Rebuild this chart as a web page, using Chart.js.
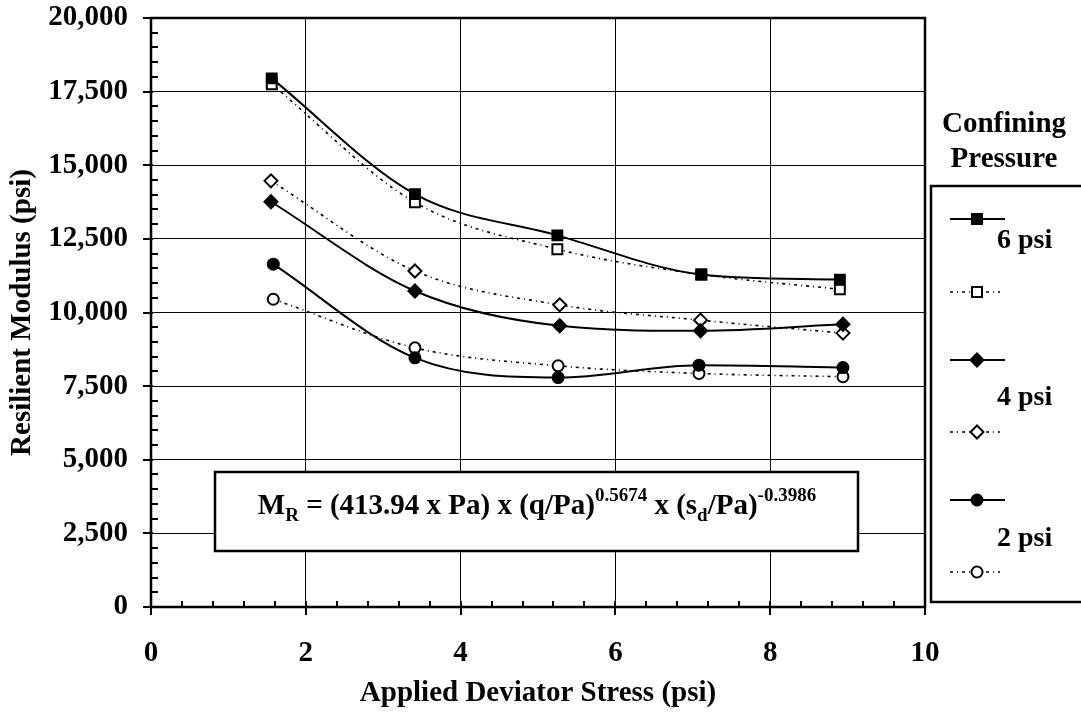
<!DOCTYPE html>
<html>
<head>
<meta charset="utf-8">
<script src="https://cdn.jsdelivr.net/npm/chart.js@4.4.1/dist/chart.umd.min.js"></script>
<style>
    html, body { margin: 0; padding: 0; background: #fff; }
    #wrap { width: 1081px; height: 719px; position: relative; }
</style>
</head>
<body>
<div id="wrap"><canvas id="mr-chart"></canvas></div>
<script>
// Tick values
var xTickValues = [0, 2, 4, 6, 8, 10];
var yTickValues = [0, 2500, 5000, 7500, 10000, 12500, 15000, 17500, 20000];

// Applied deviator stress (psi) for each confining pressure
var stress6 = [1.56, 3.41, 5.25, 7.11, 8.90];
var stress4 = [1.55, 3.41, 5.28, 7.10, 8.94];
var stress2 = [1.58, 3.41, 5.26, 7.08, 8.94];

// Resilient modulus (psi): solid and open markers
var mr6Solid = [17950, 14020, 12620, 11290, 11110];
var mr6Open  = [17750, 13740, 12150, 11290, 10790];
var mr4Solid = [13760, 10730, 9550, 9380, 9600];
var mr4Open  = [14470, 11410, 10260, 9740, 9300];
var mr2Solid = [11640, 8460, 7790, 8210, 8130];
var mr2Open  = [10450, 8800, 8190, 7930, 7820];

var pressureLabels = ['6 psi', '4 psi', '2 psi'];

var FONT = '"Liberation Serif", "Times New Roman", serif';
var DOTTED = [3, 4, 1, 4];

function toPoints(xs, ys) {
    var pts = [];
    for (var i = 0; i < xs.length; i++) {
        pts.push({ x: xs[i], y: ys[i] });
    }
    return pts;
}

function makeSet(label, xs, ys, style, filled) {
    return {
        label: label,
        data: toPoints(xs, ys),
        showLine: true,
        borderColor: '#000',
        borderWidth: filled ? 2 : 1.6,
        borderDash: filled ? [] : DOTTED,
        cubicInterpolationMode: 'monotone',
        pointStyle: style,
        pointRadius: style === 'rect' ? 7 : (style === 'rectRot' ? 6.5 : 5.5),
        pointBackgroundColor: filled ? '#000' : '#fff',
        pointBorderColor: '#000',
        pointBorderWidth: 2
    };
}

// Legend rows
var legendRows = [
    { style: 'rect', filled: true, y: 219 },
    { style: 'rect', filled: false, y: 292 },
    { style: 'rectRot', filled: true, y: 360 },
    { style: 'rectRot', filled: false, y: 432 },
    { style: 'circle', filled: true, y: 500 },
    { style: 'circle', filled: false, y: 572 }
];
var legendTextY = [241, 398, 539];

function drawMarker(ctx, style, filled, x, y) {
    ctx.save();
    ctx.setLineDash([]);
    ctx.lineWidth = 2;
    ctx.strokeStyle = '#000';
    ctx.fillStyle = filled ? '#000' : '#fff';
    ctx.beginPath();
    if (style === 'rect') {
        ctx.rect(x - 5, y - 5, 10, 10);
    } else if (style === 'rectRot') {
        ctx.moveTo(x, y - 6.5);
        ctx.lineTo(x + 6.5, y);
        ctx.lineTo(x, y + 6.5);
        ctx.lineTo(x - 6.5, y);
        ctx.closePath();
    } else {
        ctx.arc(x, y, 5.5, 0, Math.PI * 2);
    }
    ctx.fill();
    ctx.stroke();
    ctx.restore();
}

// Draw text pieces (normal / sub / sup) in a row, returns width
function drawRich(ctx, parts, x, y, size, measureOnly) {
    var cx = x;
    parts.forEach(function(p) {
        var s = p.mode ? Math.round(size * 0.65) : size;
        ctx.font = 'bold ' + s + 'px ' + FONT;
        var dy = 0;
        if (p.mode === 'sub') dy = size * 0.32;
        if (p.mode === 'sup') dy = -size * 0.38;
        if (!measureOnly) ctx.fillText(p.t, cx, y + dy);
        cx += ctx.measureText(p.t).width;
    });
    return cx - x;
}

var framePlugin = {
    id: 'frame',
    beforeDatasetsDraw: function(chart) {
        var ctx = chart.ctx;
        var a = chart.chartArea;
        var xs = chart.scales.x;
        var ys = chart.scales.y;
        ctx.save();
        ctx.strokeStyle = '#000';
        ctx.setLineDash([]);

        // major and minor ticks
        ctx.lineWidth = 2;
        ctx.beginPath();
        for (var v = 0; v <= 20000; v += 500) {
            var py = Math.round(ys.getPixelForValue(v));
            if (v % 2500 === 0) {
                ctx.moveTo(a.left - 8, py);
                ctx.lineTo(a.left + 2, py);
            } else {
                ctx.moveTo(a.left, py);
                ctx.lineTo(a.left + 7, py);
            }
        }
        for (var k = 0; k <= 25; k++) {
            var px = Math.round(xs.getPixelForValue(k * 0.4));
            if (k % 5 === 0) {
                ctx.moveTo(px, a.bottom - 6);
                ctx.lineTo(px, a.bottom + 8);
            } else {
                ctx.moveTo(px, a.bottom);
                ctx.lineTo(px, a.bottom - 6);
            }
        }
        ctx.stroke();

        // plot frame
        ctx.lineWidth = 2.5;
        ctx.strokeRect(a.left, a.top, a.right - a.left, a.bottom - a.top);
        ctx.restore();
    },
    afterDatasetsDraw: function(chart) {
        var ctx = chart.ctx;
        ctx.save();
        ctx.setLineDash([]);
        ctx.strokeStyle = '#000';

        // equation box
        ctx.lineWidth = 2.5;
        ctx.fillStyle = '#fff';
        ctx.fillRect(215, 472, 643, 79);
        ctx.strokeRect(215, 472, 643, 79);
        ctx.fillStyle = '#000';
        ctx.textBaseline = 'middle';
        ctx.textAlign = 'left';
        var parts = [
            { t: 'M' }, { t: 'R', mode: 'sub' },
            { t: ' = (413.94 x Pa) x (q/Pa)' }, { t: '0.5674', mode: 'sup' },
            { t: ' x (s' }, { t: 'd', mode: 'sub' }, { t: '/Pa)' }, { t: '-0.3986', mode: 'sup' }
        ];
        var w = drawRich(ctx, parts, 0, 0, 29, true);
        drawRich(ctx, parts, 537 - w / 2, 507, 29, false);

        // legend title
        ctx.textAlign = 'center';
        ctx.font = 'bold 29px ' + FONT;
        ctx.fillText('Confining', 1004, 125);
        ctx.fillText('Pressure', 1004, 160);

        // legend box
        ctx.lineWidth = 2.5;
        ctx.strokeRect(931, 186, 170, 416);

        legendRows.forEach(function(r) {
            ctx.save();
            ctx.lineWidth = r.filled ? 2 : 1.6;
            ctx.setLineDash(r.filled ? [] : DOTTED);
            ctx.beginPath();
            ctx.moveTo(950, r.y);
            ctx.lineTo(r.filled ? 1005 : 1000, r.y);
            ctx.stroke();
            ctx.restore();
            drawMarker(ctx, r.style, r.filled, 977, r.y);
        });
        ctx.textAlign = 'left';
        ctx.font = 'bold 28px ' + FONT;
        pressureLabels.forEach(function(lbl, i) {
            ctx.fillText(lbl, 997, legendTextY[i]);
        });
        ctx.restore();
    }
};

var tickFont = { family: FONT, size: 29, weight: 'bold' };

var mrChart = new Chart(document.getElementById('mr-chart').getContext('2d'), {
    type: 'scatter',
    data: {
        datasets: [
            makeSet('6 psi', stress6, mr6Solid, 'rect', true),
            makeSet('6 psi', stress6, mr6Open, 'rect', false),
            makeSet('4 psi', stress4, mr4Solid, 'rectRot', true),
            makeSet('4 psi', stress4, mr4Open, 'rectRot', false),
            makeSet('2 psi', stress2, mr2Solid, 'circle', true),
            makeSet('2 psi', stress2, mr2Open, 'circle', false)
        ]
    },
    options: {
        responsive: true,
        maintainAspectRatio: false,
        animation: false,
        layout: { padding: { left: 0, right: 156, top: 18, bottom: 0 } },
        plugins: {
            legend: { display: false },
            tooltip: { enabled: false }
        },
        scales: {
            x: {
                type: 'linear',
                min: 0,
                max: 10,
                afterBuildTicks: function(scale) {
                    scale.ticks = xTickValues.map(function(v) { return { value: v }; });
                },
                afterFit: function(scale) {
                    scale.height = 112;
                    scale.paddingLeft = 0;
                    scale.paddingRight = 0;
                },
                border: { display: false },
                grid: { color: '#000', lineWidth: 1, borderDash: [2, 2], drawTicks: false },
                ticks: { color: '#000', font: tickFont, padding: 29, maxRotation: 0 },
                title: {
                    display: true,
                    text: 'Applied Deviator Stress (psi)',
                    color: '#000',
                    font: tickFont,
                    padding: { top: 0, bottom: 8 }
                }
            },
            y: {
                type: 'linear',
                min: 0,
                max: 20000,
                afterBuildTicks: function(scale) {
                    scale.ticks = yTickValues.map(function(v) { return { value: v }; });
                },
                afterFit: function(scale) {
                    scale.width = 151;
                    scale.paddingTop = 0;
                    scale.paddingBottom = 0;
                },
                border: { display: false },
                grid: { color: '#000', lineWidth: 1, borderDash: [2, 2], drawTicks: false },
                ticks: {
                    color: '#000',
                    font: tickFont,
                    padding: 23,
                    callback: function(v) { return Number(v).toLocaleString('en-US'); }
                },
                title: {
                    display: true,
                    text: 'Resilient Modulus (psi)',
                    color: '#000',
                    font: tickFont,
                    padding: { top: 5, bottom: 0 }
                }
            }
        }
    },
    plugins: [framePlugin]
});
</script>
</body>
</html>
